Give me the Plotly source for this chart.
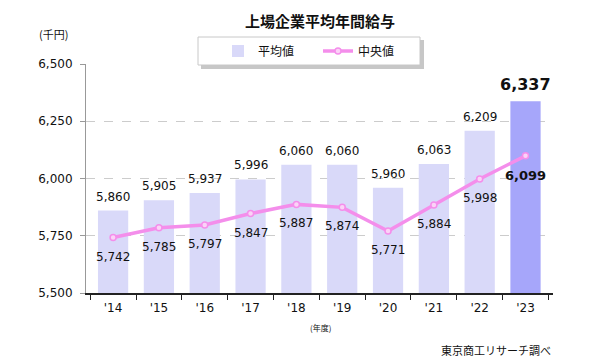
import plotly.graph_objects as go

years = ["'14", "'15", "'16", "'17", "'18", "'19", "'20", "'21", "'22", "'23"]
average = [5860, 5905, 5937, 5996, 6060, 6060, 5960, 6063, 6209, 6337]
median = [5742, 5785, 5797, 5847, 5887, 5874, 5771, 5884, 5998, 6099]

FONT = "DejaVu Sans, Verdana, sans-serif"
JP = "Noto Sans CJK JP, sans-serif"

# page body has an 8px margin; work in reference pixel coords and subtract it
OFF = 8
W, H = 600 - OFF, 363 - OFF
PL, PR, PT, PB = 86, 553, 64, 293  # plot area in reference pixels
PW, PH = PR - PL, PB - PT


def px(x):
    return (x - PL) / PW


def py(y):
    return (PB - y) / PH


n = len(years)
bar_colors = ["#D9D9F9"] * (n - 1) + ["#A6A6FA"]

fig = go.Figure()
fig.add_trace(go.Bar(
    x=years, y=average, name="平均値",
    marker=dict(color=bar_colors, line=dict(width=0)),
))
fig.add_trace(go.Scatter(
    x=years, y=median, name="中央値", mode="lines+markers",
    line=dict(color="#F48EEB", width=3.5),
    marker=dict(size=6, color="#FBD3F7", line=dict(color="#F48EEB", width=1.5)),
    cliponaxis=False,
))

annotations = []
for i, (yr, v) in enumerate(zip(years, average)):
    last = i == n - 1
    annotations.append(dict(
        x=yr, y=v, xref="x", yref="y", text=(f"<b>{v:,}</b>" if last else f"{v:,}"),
        showarrow=False, xanchor="center", yanchor="bottom", yshift=5,
        font=dict(family=FONT, size=16 if last else 12, color="#111")))
for i, (yr, v) in enumerate(zip(years, median)):
    last = i == n - 1
    annotations.append(dict(
        x=yr, y=v, xref="x", yref="y", text=(f"<b>{v:,}</b>" if last else f"{v:,}"),
        showarrow=False, xanchor="center", yanchor="top", yshift=-10,
        font=dict(family=FONT, size=13 if last else 12, color="#111")))

annotations += [
    dict(text="<b>上場企業平均年間給与</b>", xref="paper", yref="paper", x=0.5, y=py(20),
         xanchor="center", yanchor="middle", showarrow=False,
         font=dict(family=JP, size=15, color="#111")),
    dict(text="(千円)", xref="paper", yref="paper", x=px(53), y=py(34),
         xanchor="center", yanchor="middle", showarrow=False,
         font=dict(family=JP, size=11, color="#111")),
    dict(text="(年度)", xref="paper", yref="paper", x=px(320), y=py(327),
         xanchor="center", yanchor="middle", showarrow=False,
         font=dict(family=JP, size=8, color="#111")),
    dict(text="東京商工リサーチ調べ", xref="paper", yref="paper", x=px(553), y=py(350),
         xanchor="right", yanchor="middle", showarrow=False,
         font=dict(family=JP, size=11, color="#111")),
]

fig.update_layout(
    width=W, height=H,
    margin=dict(l=PL - OFF, r=W - (PR - OFF), t=PT - OFF, b=H - (PB - OFF), pad=0),
    paper_bgcolor="white", plot_bgcolor="white",
    bargap=0.34,
    showlegend=True,
    legend=dict(orientation="h", x=px(218), xanchor="left", y=py(51), yanchor="middle",
                borderwidth=0, bgcolor="rgba(0,0,0,0)",
                entrywidth=55, font=dict(family=JP, size=12, color="#111")),
    xaxis=dict(type="category", showline=True, linecolor="#222", linewidth=1.5,
               ticks="outside", tickson="boundaries", ticklen=5, tickcolor="#222",
               ticklabelstandoff=3,
               tickfont=dict(family=FONT, size=12, color="#111"), showgrid=False),
    yaxis=dict(range=[5500, 6500], dtick=250, tickformat=",", showline=True,
               linecolor="#999", linewidth=1, ticks="outside", ticklen=5, tickcolor="#999",
               ticklabelstandoff=5,
               showgrid=True, gridcolor="#cccccc", griddash="dash", gridwidth=1,
               tickfont=dict(family=FONT, size=12, color="#111"), zeroline=False),
    shapes=[
        dict(type="rect", xref="paper", yref="paper",
             x0=px(201), x1=px(424), y0=py(69), y1=py(40),
             fillcolor="rgba(0,0,0,0.22)", line=dict(width=0), layer="above"),
        dict(type="rect", xref="paper", yref="paper",
             x0=px(198), x1=px(420), y0=py(65), y1=py(37),
             fillcolor="white", line=dict(color="#c8c8c8", width=1), layer="above"),
    ],
    annotations=annotations,
)

fig.write_html("out.html")
